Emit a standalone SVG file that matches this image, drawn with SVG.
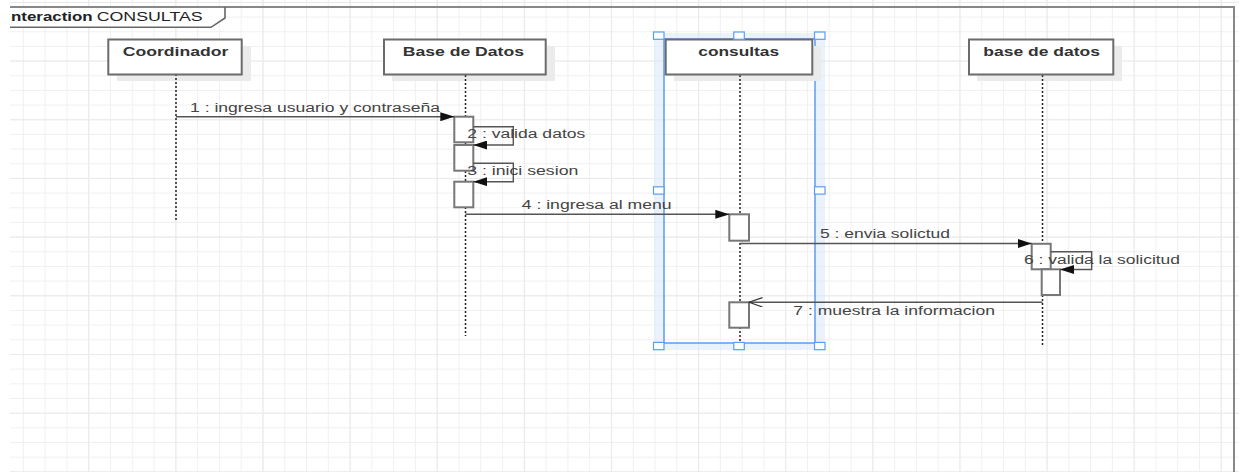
<svg xmlns="http://www.w3.org/2000/svg" width="1239" height="472" viewBox="0 0 1239 472">
  <defs>
    <pattern id="gridMinor" x="1.1" y="1.9" width="21.78" height="14.67" patternUnits="userSpaceOnUse">
      <path d="M0.5,0 V14.67 M0,0.5 H21.78" fill="none" stroke="#f0f0f0" stroke-width="1"/>
    </pattern>
    <pattern id="gridMajor" x="1.1" y="1.9" width="87.12" height="58.68" patternUnits="userSpaceOnUse">
      <path d="M0.5,0 V58.68 M0,0.5 H87.12" fill="none" stroke="#eaeaea" stroke-width="1.2"/>
    </pattern>
    <marker id="filled" markerWidth="14" markerHeight="9" refX="14" refY="4.5" orient="auto" markerUnits="userSpaceOnUse">
      <path d="M0,0 L14,4.5 L0,9 Z" fill="#111"/>
    </marker>
    <marker id="open" markerWidth="15" markerHeight="11" refX="14" refY="5" orient="auto" markerUnits="userSpaceOnUse">
      <path d="M0.5,0.3 L14,5 L0.5,9.7" fill="none" stroke="#333" stroke-width="1.2"/>
    </marker>
  </defs>
  <style>
    .box { fill: #ffffff; stroke: #6b6b6b; stroke-width: 2; }
    .shadow { fill: #ebebeb; }
    .life { stroke: #222; stroke-width: 1.5; stroke-dasharray: 2 2; fill: none; }
    .act { fill: #ffffff; stroke: #777; stroke-width: 2; }
    .msg { stroke: #555; stroke-width: 1.4; fill: none; }
    .title { font-family: "Liberation Sans", Arial, sans-serif; font-size: 13px; font-weight: bold; fill: #333; }
    .lbl { font-family: "Liberation Sans", Arial, sans-serif; font-size: 12.5px; fill: #444; }
    .frame { font-family: "Liberation Sans", Arial, sans-serif; font-size: 12.5px; fill: #222; }
    .handle { fill: #ffffff; stroke: #5b9cf4; stroke-width: 1.2; }
  </style>

  <rect x="0" y="0" width="1239" height="472" fill="#ffffff"/>
  <rect x="10" y="0" width="1229" height="472" fill="url(#gridMinor)"/>
  <rect x="10" y="0" width="1229" height="472" fill="url(#gridMajor)"/>

  <g id="frame">
    <path d="M10,7 H225 V18 L211,27.3 H10 Z" fill="#ffffff"/>
    <path d="M10,7 H1234 V472" fill="none" stroke="#888" stroke-width="2"/>
    <path d="M10,27.3 H211 L225,18 V7" fill="none" stroke="#666" stroke-width="1.6"/>
    <text class="frame" x="11" y="21" font-weight="bold" textLength="81.7" lengthAdjust="spacingAndGlyphs">nteraction</text>
    <text class="frame" x="96.7" y="21" textLength="106" lengthAdjust="spacingAndGlyphs">CONSULTAS</text>
  </g>

  <g id="selection">
    <path d="M654,33 H825 V350 H654 Z M664,39 V343 H815 V39 Z" fill="#d9e8fc" fill-opacity="0.55" fill-rule="evenodd"/>
    <rect x="664" y="39" width="151" height="304" fill="none" stroke="#5b9cf4" stroke-width="1.5"/>
  </g>

  <g id="coordinador">
    <rect class="shadow" x="117" y="46" width="134" height="35"/>
    <line class="life" x1="176" y1="74" x2="176" y2="220"/>
    <rect class="box" x="108.3" y="39.5" width="133.4" height="35"/>
    <text class="title" x="122.7" y="55.5" textLength="105.6" lengthAdjust="spacingAndGlyphs">Coordinador</text>
  </g>

  <g id="base-de-datos-1">
    <rect class="shadow" x="392" y="46" width="163" height="35"/>
    <line class="life" x1="465.5" y1="75" x2="465.5" y2="336"/>
    <rect class="box" x="384" y="39.5" width="161.7" height="35"/>
    <text class="title" x="402.7" y="55.5" textLength="121.3" lengthAdjust="spacingAndGlyphs">Base de Datos</text>
    <rect class="act" x="454.3" y="116.7" width="19" height="25.6"/>
    <rect class="act" x="454.3" y="145" width="19" height="25.7"/>
    <rect class="act" x="454.3" y="181.7" width="19" height="25.6"/>
  </g>

  <g id="consultas">
    <rect class="shadow" x="674" y="46" width="147" height="35"/>
    <line class="life" x1="740" y1="75" x2="740" y2="350"/>
    <rect class="box" x="665.7" y="39.5" width="146.6" height="35"/>
    <text class="title" x="698.3" y="55.5" textLength="80.7" lengthAdjust="spacingAndGlyphs">consultas</text>
    <rect class="act" x="729.3" y="214.3" width="19.7" height="26.4"/>
    <rect class="act" x="729.3" y="302.3" width="19.7" height="25.4"/>
  </g>

  <g id="base-de-datos-2">
    <rect class="shadow" x="977" y="46" width="145" height="35"/>
    <line class="life" x1="1042.5" y1="75" x2="1042.5" y2="346"/>
    <rect class="box" x="969" y="39.5" width="144.3" height="35"/>
    <text class="title" x="983.3" y="55.5" textLength="116.7" lengthAdjust="spacingAndGlyphs">base de datos</text>
    <rect class="act" x="1031.7" y="243.8" width="19" height="25.5"/>
    <rect class="act" x="1041.7" y="269.3" width="18.3" height="25.7"/>
  </g>

  <g id="handles">
    <rect class="handle" x="653.5" y="32" width="10.5" height="7.3"/>
    <rect class="handle" x="733.8" y="32" width="10.5" height="7.3"/>
    <rect class="handle" x="814.5" y="32" width="10.5" height="7.3"/>
    <rect class="handle" x="653.5" y="186.8" width="10.5" height="7.3"/>
    <rect class="handle" x="814.5" y="186.8" width="10.5" height="7.3"/>
    <rect class="handle" x="653.5" y="342.4" width="10.5" height="7.3"/>
    <rect class="handle" x="733.8" y="342.4" width="10.5" height="7.3"/>
    <rect class="handle" x="814.5" y="342.4" width="10.5" height="7.3"/>
  </g>

  <g id="connectors">
    <line class="msg" x1="176" y1="116.7" x2="454.3" y2="116.7" marker-end="url(#filled)"/>
    <path class="msg" d="M473.3,126.7 H513.3 V145 H473.3" marker-end="url(#filled)"/>
    <path class="msg" d="M473.3,163.3 H513.3 V181.7 H473.3" marker-end="url(#filled)"/>
    <line class="msg" x1="465.5" y1="214.3" x2="729.3" y2="214.3" marker-end="url(#filled)"/>
    <line class="msg" x1="740" y1="243.5" x2="1031.7" y2="243.5" marker-end="url(#filled)"/>
    <path class="msg" d="M1050.7,251.7 H1091.7 V269.5 H1060" marker-end="url(#filled)"/>
    <line class="msg" x1="1042.5" y1="302.3" x2="749" y2="302.3" marker-end="url(#open)"/>
  </g>

  <g id="labels">
    <text class="lbl" x="190" y="111.7" textLength="250" lengthAdjust="spacingAndGlyphs">1 : ingresa usuario y contraseña</text>
    <text class="lbl" x="467.3" y="138.3" textLength="118" lengthAdjust="spacingAndGlyphs">2 : valida datos</text>
    <text class="lbl" x="467.3" y="175" textLength="111" lengthAdjust="spacingAndGlyphs">3 : inici sesion</text>
    <text class="lbl" x="521.7" y="208.5" textLength="150" lengthAdjust="spacingAndGlyphs">4 : ingresa al menu</text>
    <text class="lbl" x="820" y="238.3" textLength="130" lengthAdjust="spacingAndGlyphs">5 : envia solictud</text>
    <text class="lbl" x="1024" y="263.5" textLength="156" lengthAdjust="spacingAndGlyphs">6 : valida la solicitud</text>
    <text class="lbl" x="793.3" y="315" textLength="201.7" lengthAdjust="spacingAndGlyphs">7 : muestra la informacion</text>
  </g>
</svg>
